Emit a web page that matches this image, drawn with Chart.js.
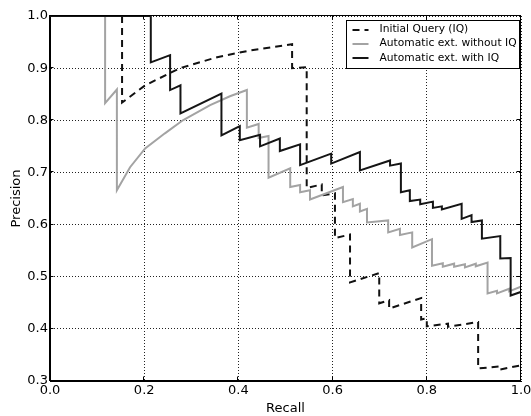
<!DOCTYPE html>
<html><head><meta charset="utf-8">
<script src="https://cdn.jsdelivr.net/npm/chart.js@4/dist/chart.umd.min.js"></script>
<style>html,body{margin:0;padding:0;background:#fff;}#wrap{width:531px;height:416px;}</style>
</head><body><div id="wrap"><canvas id="c" width="531" height="416"></canvas></div>
<script>
const xTickValues = [0.0, 0.2, 0.4, 0.6, 0.8, 1.0];
const yTickValues = [0.3, 0.4, 0.5, 0.6, 0.7, 0.8, 0.9, 1.0];
const xTitle = 'Recall';
const yTitle = 'Precision';
const seriesNames = ['Initial Query (IQ)', 'Automatic ext. without IQ', 'Automatic ext. with IQ'];

const iqRecall = [0, 0.153, 0.153, 0.202, 0.276, 0.355, 0.425, 0.514, 0.514, 0.545, 0.545, 0.577, 0.577, 0.605, 0.605, 0.637, 0.637, 0.699, 0.699, 0.720, 0.720, 0.788, 0.788, 0.800, 0.800, 0.845, 0.845, 0.909, 0.909, 0.955, 0.955, 1.0];
const iqPrecision = [1.0, 1.0, 0.834, 0.867, 0.900, 0.921, 0.934, 0.946, 0.900, 0.902, 0.670, 0.677, 0.656, 0.660, 0.574, 0.581, 0.489, 0.507, 0.449, 0.455, 0.439, 0.459, 0.418, 0.420, 0.405, 0.410, 0.404, 0.413, 0.324, 0.328, 0.322, 0.330];

const autoRecall = [0, 0.117, 0.117, 0.142, 0.142, 0.170, 0.202, 0.244, 0.282, 0.340, 0.382, 0.418, 0.418, 0.443, 0.443, 0.464, 0.464, 0.510, 0.510, 0.531, 0.531, 0.552, 0.552, 0.622, 0.622, 0.643, 0.643, 0.658, 0.658, 0.673, 0.673, 0.718, 0.718, 0.743, 0.743, 0.769, 0.769, 0.811, 0.811, 0.834, 0.834, 0.858, 0.858, 0.881, 0.881, 0.904, 0.904, 0.929, 0.929, 0.949, 0.949, 0.975, 0.975, 1.0, 1.0];
const autoPrecision = [1.0, 1.0, 0.833, 0.859, 0.666, 0.710, 0.746, 0.775, 0.800, 0.829, 0.846, 0.858, 0.786, 0.793, 0.766, 0.770, 0.690, 0.708, 0.672, 0.676, 0.662, 0.666, 0.648, 0.672, 0.643, 0.649, 0.635, 0.640, 0.625, 0.630, 0.604, 0.608, 0.585, 0.592, 0.580, 0.585, 0.556, 0.572, 0.521, 0.526, 0.519, 0.525, 0.519, 0.524, 0.518, 0.525, 0.520, 0.527, 0.468, 0.473, 0.468, 0.477, 0.472, 0.481, 0.430];

const autoIqRecall = [0, 0.214, 0.214, 0.255, 0.255, 0.277, 0.277, 0.364, 0.364, 0.403, 0.403, 0.446, 0.446, 0.488, 0.488, 0.531, 0.531, 0.597, 0.597, 0.658, 0.658, 0.722, 0.722, 0.745, 0.745, 0.764, 0.764, 0.786, 0.786, 0.813, 0.813, 0.832, 0.832, 0.874, 0.874, 0.895, 0.895, 0.917, 0.917, 0.956, 0.956, 0.978, 0.978, 1.0, 1.0];
const autoIqPrecision = [1.0, 1.0, 0.911, 0.925, 0.858, 0.867, 0.813, 0.851, 0.771, 0.789, 0.762, 0.772, 0.750, 0.765, 0.741, 0.754, 0.714, 0.736, 0.717, 0.739, 0.704, 0.723, 0.713, 0.717, 0.662, 0.666, 0.645, 0.648, 0.639, 0.644, 0.632, 0.635, 0.629, 0.640, 0.611, 0.618, 0.605, 0.608, 0.573, 0.578, 0.535, 0.536, 0.464, 0.471, 0.430];

const toPts = (xs, ys) => xs.map((x, i) => ({x: x, y: ys[i]}));

const seriesStyles = [
  {color: '#111111', dash: [7, 5], width: 2},
  {color: '#a3a3a3', dash: [], width: 2},
  {color: '#151515', dash: [], width: 2}
];

const frameLegend = {
  id: 'frameLegend',
  afterDatasetsDraw(chart) {
    const ctx = chart.ctx;
    const a = chart.chartArea;
    const xs = chart.scales.x, ys = chart.scales.y;
    ctx.save();
    ctx.setLineDash([]);
    ctx.strokeStyle = '#000';
    ctx.lineWidth = 1;
    const L = Math.round(a.left) - 0.5, R = Math.round(a.right) - 0.5;
    const T = Math.round(a.top) - 0.5, B = Math.round(a.bottom) - 0.5;
    ctx.strokeRect(L, T, R - L, B - T);
    ctx.beginPath();
    xTickValues.forEach(v => {
      const p = Math.round(xs.getPixelForValue(v)) - 0.5;
      ctx.moveTo(p, B); ctx.lineTo(p, B - 4);
      ctx.moveTo(p, T); ctx.lineTo(p, T + 4);
    });
    yTickValues.forEach(v => {
      const p = Math.round(ys.getPixelForValue(v)) - 0.5;
      ctx.moveTo(L, p); ctx.lineTo(L + 4, p);
      ctx.moveTo(R, p); ctx.lineTo(R - 4, p);
    });
    ctx.stroke();
    // legend
    const bx = 346.5, by = 20.5, bw = 173, bh = 48;
    ctx.fillStyle = '#fff';
    ctx.fillRect(bx, by, bw, bh);
    ctx.strokeRect(bx, by, bw, bh);
    ctx.font = '10.7px "DejaVu Sans"';
    ctx.textBaseline = 'middle';
    ctx.textAlign = 'left';
    seriesNames.forEach((name, i) => {
      const y = by + 9 + i * 14.2;
      const st = seriesStyles[i];
      ctx.strokeStyle = st.color;
      ctx.lineWidth = st.width;
      ctx.setLineDash(st.dash);
      ctx.beginPath();
      ctx.moveTo(bx + 6, Math.round(y));
      ctx.lineTo(bx + 22, Math.round(y));
      ctx.stroke();
      ctx.setLineDash([]);
      ctx.fillStyle = '#000';
      ctx.fillText(name, bx + 33, y);
    });
    ctx.restore();
  }
};

const ds = [
  {data: toPts(autoIqRecall, autoIqPrecision), s: seriesStyles[2], order: 1, label: seriesNames[2]},
  {data: toPts(autoRecall, autoPrecision), s: seriesStyles[1], order: 2, label: seriesNames[1]},
  {data: toPts(iqRecall, iqPrecision), s: seriesStyles[0], order: 3, label: seriesNames[0]}
].map(d => ({
  label: d.label, data: d.data, order: d.order,
  showLine: true, fill: false, tension: 0, pointRadius: 0, pointHoverRadius: 0,
  borderColor: d.s.color, borderWidth: d.s.width, borderDash: d.s.dash,
  borderJoinStyle: 'miter', borderCapStyle: 'butt'
}));

new Chart(document.getElementById('c'), {
  type: 'scatter',
  data: {datasets: ds},
  options: {
    responsive: false, animation: false, devicePixelRatio: 1,
    layout: {padding: {left: 0, right: 10, top: 16, bottom: 0}},
    plugins: {legend: {display: false}, tooltip: {enabled: false}},
    events: [],
    scales: {
      x: {
        type: 'linear', min: 0, max: 1,
        afterBuildTicks: s => { s.ticks = xTickValues.map(v => ({value: v})); },
        afterFit: s => { s.height = 35; s.paddingLeft = 0; s.paddingRight = 0; },
        ticks: {callback: v => v.toFixed(1), color: '#000', font: {family: 'DejaVu Sans', size: 13}, padding: 2, maxRotation: 0, autoSkip: false},
        grid: {color: '#222', lineWidth: 1, drawTicks: false},
        border: {display: true, color: '#000', width: 1, dash: [1, 2]},
        title: {display: true, text: xTitle, color: '#000', font: {family: 'DejaVu Sans', size: 13}, padding: {top: 0, bottom: 0}}
      },
      y: {
        type: 'linear', min: 0.3, max: 1.0,
        afterBuildTicks: s => { s.ticks = yTickValues.map(v => ({value: v})); },
        afterFit: s => { s.width = 50; s.paddingTop = 0; s.paddingBottom = 0; },
        ticks: {callback: v => v.toFixed(1), color: '#000', font: {family: 'DejaVu Sans', size: 13}, padding: 2, autoSkip: false},
        grid: {color: '#222', lineWidth: 1, drawTicks: false},
        border: {display: true, color: '#000', width: 1, dash: [1, 2]},
        title: {display: true, text: yTitle, color: '#000', font: {family: 'DejaVu Sans', size: 13}, padding: {top: 9, bottom: 0}}
      }
    }
  },
  plugins: [frameLegend]
});
</script></body></html>
